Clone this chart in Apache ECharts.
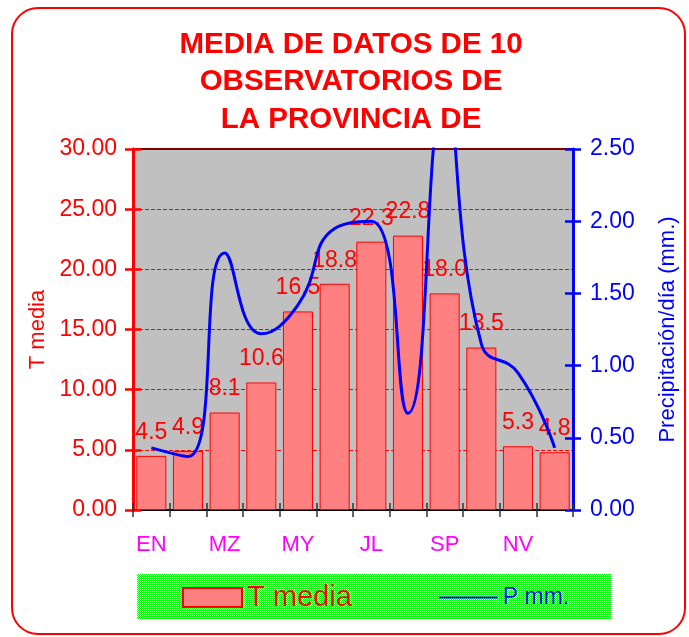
<!DOCTYPE html>
<html>
<head>
<meta charset="utf-8">
<script src="https://cdn.jsdelivr.net/npm/echarts@6/dist/echarts.min.js"></script>
<style>
  html, body { margin: 0; padding: 0; background: #fff; }
  #chart { width: 689px; height: 637px; }
</style>
</head>
<body>
<div id="chart"></div>
<script>
const months = ["EN", "FE", "MZ", "AB", "MY", "JN", "JL", "AG", "SP", "OC", "NV", "DC"];
const tMedia = [4.5, 4.9, 8.1, 10.6, 16.5, 18.8, 22.3, 22.8, 18.0, 13.5, 5.3, 4.8];
const precip = [0.43, 0.37, 1.78, 1.22, 1.42, 1.95, 2.0, 0.67, 2.85, 1.15, 0.95, 0.43];
const titleLines = ["MEDIA DE DATOS DE 10", "OBSERVATORIOS DE", "LA PROVINCIA DE"];

const FONT = "Liberation Sans, Arial, sans-serif";

// fine green/white checker for the legend box
const pat = document.createElement("canvas");
pat.width = 2;
pat.height = 2;
const pc = pat.getContext("2d");
pc.fillStyle = "#ffffff";
pc.fillRect(0, 0, 2, 2);
pc.fillStyle = "#00ff00";
pc.fillRect(0, 0, 1, 1);
pc.fillRect(1, 1, 1, 1);

const chart = echarts.init(document.getElementById("chart"), null, { renderer: "canvas" });

chart.setOption({
  backgroundColor: "#ffffff",
  textStyle: { fontFamily: FONT },
  animation: false,
  graphic: [
    {
      type: "rect",
      z: -10,
      shape: { x: 12, y: 8, width: 673, height: 626, r: 26 },
      style: { fill: "#ffffff", stroke: "#ff0000", lineWidth: 2 }
    },
    {
      type: "rect",
      z: 0,
      shape: { x: 137, y: 574, width: 474, height: 45 },
      style: { fill: { image: pat, repeat: "repeat" } }
    },
    {
      type: "text",
      z: 5,
      style: {
        text: titleLines.join("\n"),
        x: 351,
        y: 26,
        align: "center",
        verticalAlign: "top",
        fill: "#ff0000",
        font: "bold 29.5px " + FONT,
        lineHeight: 37.5
      }
    }
  ],
  legend: {
    left: 182,
    top: 583,
    padding: 0,
    itemWidth: 59,
    itemHeight: 19,
    itemGap: 86,
    z: 10,
    data: [
      { name: "T media", icon: "rect", textStyle: { fontSize: 29, color: "#ff0000" } },
      {
        name: "P mm.",
        itemStyle: { color: "rgba(0,0,0,0)", borderColor: "rgba(0,0,0,0)", borderWidth: 0 },
        textStyle: { fontSize: 23, color: "#0000ff" }
      }
    ]
  },
  grid: {
    left: 133,
    right: 116,
    top: 149,
    bottom: 127,
    show: true,
    backgroundColor: "#c0c0c0",
    borderColor: "#800000",
    borderWidth: 2
  },
  xAxis: [
    {
      type: "category",
      data: months,
      axisLine: { lineStyle: { color: "#000000", width: 2 } },
      axisTick: { show: true, interval: 0, length: 7, lineStyle: { color: "#333333", width: 1.5 } },
      axisLabel: { interval: 1, color: "#ff00ff", fontSize: 22, margin: 24 },
      splitLine: { show: false }
    },
    {
      type: "category",
      data: months,
      position: "bottom",
      axisLine: { show: false },
      axisTick: { show: true, inside: true, interval: 0, length: 7, lineStyle: { color: "#333333", width: 1.5 } },
      axisLabel: { show: false },
      splitLine: { show: false }
    }
  ],
  yAxis: [
    {
      type: "value",
      min: 0,
      max: 30,
      interval: 5,
      position: "left",
      name: "T media",
      nameLocation: "middle",
      nameRotate: 90,
      nameGap: 81,
      nameTextStyle: { color: "#ff0000", fontSize: 22 },
      axisLine: { show: true, lineStyle: { color: "#ff0000", width: 3 } },
      axisTick: { show: true, length: 8, lineStyle: { color: "#ff0000", width: 2.5 } },
      axisLabel: { color: "#ff0000", fontSize: 23, margin: 16, formatter: (v) => v.toFixed(2) },
      splitLine: {
        show: true,
        showMinLine: false,
        showMaxLine: false,
        lineStyle: { color: "#ff0000", type: [4, 2], width: 1 }
      }
    },
    {
      type: "value",
      min: 0,
      max: 2.5,
      interval: 0.5,
      position: "right",
      name: "Precipitación/día (mm.)",
      nameLocation: "middle",
      nameRotate: 90,
      nameGap: 84,
      nameTextStyle: { color: "#0000ff", fontSize: 22 },
      axisLine: { show: true, lineStyle: { color: "#0000ff", width: 3 } },
      axisTick: { show: true, length: 8, lineStyle: { color: "#0000ff", width: 2.5 } },
      axisLabel: { color: "#0000ff", fontSize: 23, margin: 17, formatter: (v) => v.toFixed(2) },
      splitLine: { show: false }
    },
    {
      type: "value",
      min: 0,
      max: 30,
      interval: 5,
      position: "left",
      axisLine: { show: false },
      axisTick: { show: true, inside: true, length: 8, lineStyle: { color: "#ff0000", width: 2.5 } },
      axisLabel: { show: false },
      splitLine: { show: false }
    },
    {
      type: "value",
      min: 0,
      max: 2.5,
      interval: 0.5,
      position: "right",
      axisLine: { show: false },
      axisTick: { show: true, inside: true, length: 8, lineStyle: { color: "#0000ff", width: 2.5 } },
      axisLabel: { show: false },
      splitLine: { show: false }
    }
  ],
  series: [
    {
      name: "T media",
      type: "bar",
      data: tMedia,
      barCategoryGap: "18%",
      itemStyle: { color: "#ff8080", borderColor: "#ff0000", borderWidth: 1 },
      label: {
        show: true,
        position: "top",
        distance: 12,
        color: "#ff0000",
        fontSize: 23,
        formatter: (p) => p.value.toFixed(1)
      },
      z: 2
    },
    {
      name: "P mm.",
      type: "line",
      yAxisIndex: 1,
      data: precip,
      smooth: 0.5,
      symbol: "none",
      lineStyle: { color: "#0000ff", width: 3 },
      itemStyle: { color: "#0000ff" },
      z: 3
    }
  ]
});
</script>
</body>
</html>
